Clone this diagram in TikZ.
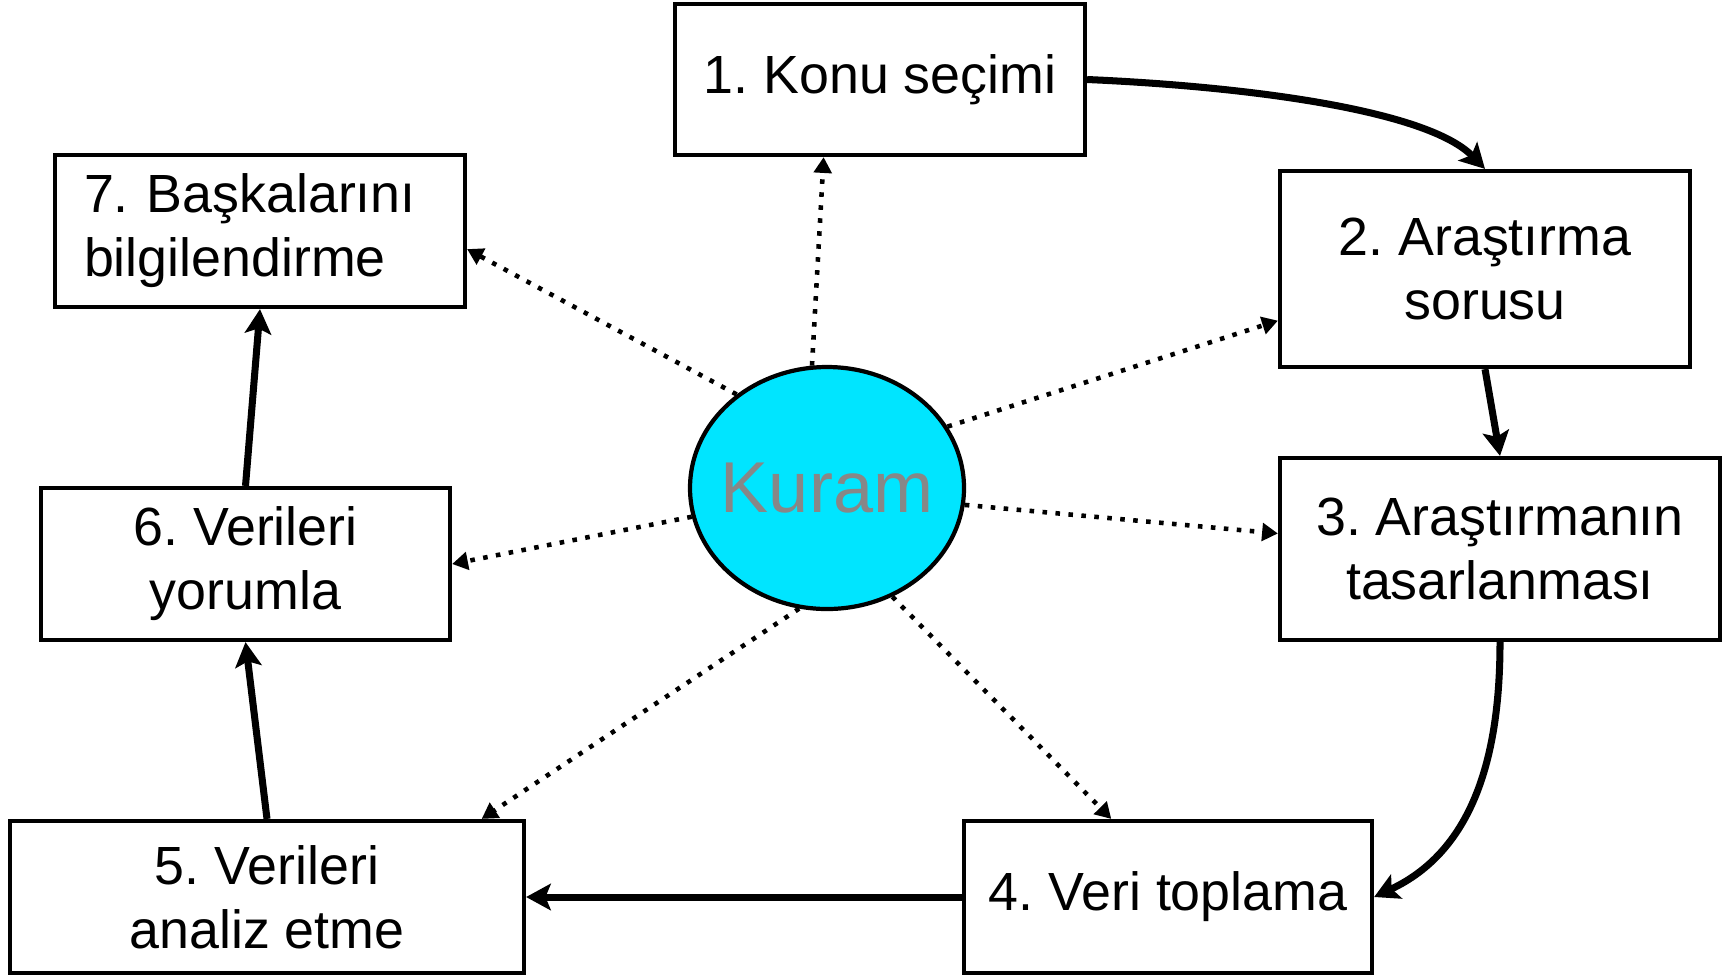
\documentclass[tikz,border=0pt]{standalone}
\usepackage{fontspec}
\setmainfont{Liberation Sans}
\frenchspacing
\usetikzlibrary{arrows.meta, shapes.geometric}

\definecolor{kuramfill}{HTML}{00E5FF}
\definecolor{kuramtext}{HTML}{878787}

\tikzset{
  box/.style = {draw, line width = 1.2pt, align = center, inner sep = 0pt,
    font = \fontsize{15.3pt}{18.2pt}\selectfont},
  flow/.style = {line width = 2pt, -{Stealth[length = 7pt, width = 7.5pt, inset = 1.5pt]}},
  link/.style = {line width = 1.3pt, dash pattern = on 1.3pt off 2.4pt,
    -{Triangle[length = 4.5pt, width = 5pt]}}
}

\begin{document}
\begin{tikzpicture}
    \useasboundingbox (0, 0) rectangle (17.27, -9.75);
    \node[box, minimum width = 4.10cm, minimum height = 1.51cm] (konu secimi) at (8.80, -0.795) {1. Konu seçimi};
    \node[box, minimum width = 4.10cm, minimum height = 1.96cm] (arastirma sorusu) at (14.85, -2.69) {2. Araştırma \\ sorusu};
    \node[box, minimum width = 4.40cm, minimum height = 1.82cm] (tasarlanma) at (15.00, -5.49) {3. Araştırmanın \\ tasarlanması};
    \node[box, minimum width = 4.08cm, minimum height = 1.52cm] (veri toplama) at (11.68, -8.97) {4. Veri toplama};
    \node[box, minimum width = 5.14cm, minimum height = 1.52cm] (analiz etme) at (2.67, -8.97) {5. Verileri \\ analiz etme};
    \node[box, minimum width = 4.09cm, minimum height = 1.52cm] (yorumla) at (2.455, -5.64) {6. Verileri \\ yorumla};
    \node[box, align = left, text width = 3.52cm, inner xsep = 0.29cm, minimum height = 1.52cm] (bilgilendirme) at (2.60, -2.31) {7. Başkalarını \\ bilgilendirme};
    \node[draw, ellipse, line width = 1.2pt, fill = kuramfill, text = kuramtext, inner sep = 0pt,
      minimum width = 2.74cm, minimum height = 2.42cm,
      font = \fontsize{20.5pt}{24pt}\selectfont] (kuram) at (8.27, -4.88) {\makebox[0pt]{Kuram}};
    % steps of the cycle
    \draw[flow] (konu secimi.east) .. controls +(1.6, -0.07) and +(-0.58, 0.59) .. (arastirma sorusu.north);
    \draw[flow] (arastirma sorusu.south) -- (tasarlanma.north);
    \draw[flow] (tasarlanma.south) to[out = -90, in = 25] (veri toplama.east);
    \draw[flow] (veri toplama.west) -- (analiz etme.east);
    \draw[flow] (analiz etme.north) -- (yorumla.south);
    \draw[flow] (yorumla.north) -- (bilgilendirme.south);
    % theory feeds every step
    \draw[link] (kuram.97) -- (konu secimi.234.4);
    \draw[link] (kuram.27) -- (arastirma sorusu.194.8);
    \draw[link] (kuram.353) -- (tasarlanma.176.1);
    \draw[link] (kuram.301) -- (veri toplama.126.4);
    \draw[link] (kuram.257.5) -- (analiz etme.20.7);
    \draw[link] (kuram.192) -- (yorumla.east);
    \draw[link] (kuram.134.7) -- (bilgilendirme.355);
  \end{tikzpicture}
\end{document}
